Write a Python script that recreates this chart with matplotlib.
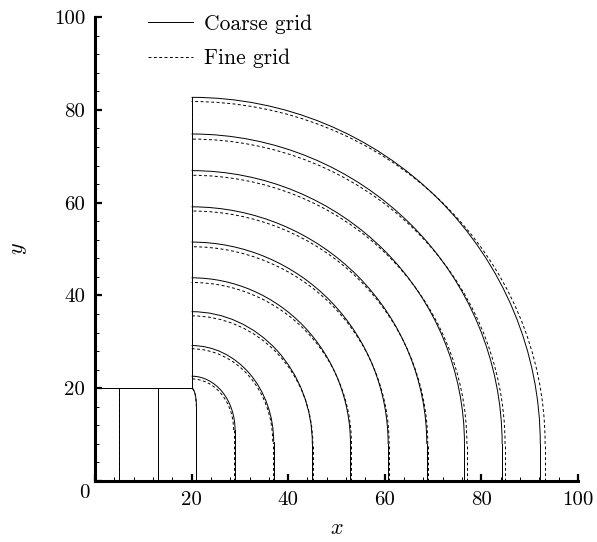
import matplotlib.pyplot as plt
from matplotlib.patches import Arc
from matplotlib.lines import Line2D
import numpy as np

plt.rcParams['font.family'] = 'cmr10'
plt.rcParams['mathtext.fontset'] = 'cm'
plt.rcParams['axes.formatter.use_mathtext'] = True

# ---- data ----
# straight fronts still inside the inlet channel (x positions)
channel_fronts = [5.0, 13.1]

# curved fronts: x where they hit the floor, y where they hit the wall x=20,
# and the height where the vertical part turns into the curve
coarse_right = [21.0, 29.0, 37.0, 45.0, 52.9, 60.7, 68.7, 76.5, 84.3, 92.2]
coarse_top   = [20.0, 22.6, 29.2, 36.5, 43.8, 51.5, 59.1, 66.9, 74.8, 82.7]
fine_right   = [21.0, 28.7, 36.8, 45.1, 53.1, 60.9, 68.9, 77.0, 84.9, 93.2]
fine_top     = [20.0, 22.0, 28.5, 35.6, 42.8, 50.5, 58.2, 65.9, 73.7, 81.8]
knee_y       = [16.0, 11.0, 8.5, 8.0, 8.0, 8.0, 8.0, 8.0, 8.0, 8.0]

wall_x = 20.0
step_y = 20.0

fig = plt.figure(figsize=(5.97, 5.42), dpi=100)
ax = fig.add_axes([0.1591, 0.1125, 0.809, 0.856])

styles = {
    'coarse': dict(color='black', lw=0.7, ls='-'),
    'fine': dict(color='black', lw=0.7, ls=(0, (3, 2.5))),
}

for key, rights, tops in [('coarse', coarse_right, coarse_top),
                          ('fine', fine_right, fine_top)]:
    st = styles[key]
    # step boundary: channel top and the wall
    ax.plot([0, wall_x, wall_x], [step_y, step_y, tops[-1]], **st)
    # fronts in the channel
    for xc in channel_fronts:
        ax.plot([xc, xc], [0, step_y], **st)
    # curved fronts
    for xr, yt, yk in zip(rights, tops, knee_y):
        ax.plot([xr, xr], [0, yk], **st)
        arc = Arc((wall_x, yk), 2 * (xr - wall_x), 2 * (yt - yk),
                  theta1=0, theta2=90, edgecolor=st['color'],
                  linewidth=st['lw'], linestyle=st['ls'])
        ax.add_patch(arc)

ax.set_xlim(0, 100)
ax.set_ylim(0, 100)

ax.spines['top'].set_visible(False)
ax.spines['right'].set_visible(False)
ax.spines['left'].set_linewidth(2.2)
ax.spines['bottom'].set_linewidth(2.2)

ax.set_xticks(np.arange(0, 101, 20))
ax.set_yticks(np.arange(0, 101, 20))
ax.set_xticks(np.arange(0, 101, 4), minor=True)
ax.set_yticks(np.arange(0, 101, 4), minor=True)
ax.set_xticklabels([''] + [str(v) for v in range(20, 101, 20)])
ax.set_yticklabels([''] + [str(v) for v in range(20, 101, 20)])
ax.tick_params(which='major', direction='in', length=5, width=1.6,
               labelsize=15, pad=7)
ax.tick_params(which='minor', direction='in', length=3, width=0.7)
ax.text(-2.1, -2.6, '0', fontsize=15, ha='center', va='center',
        clip_on=False)

ax.set_xlabel('$x$', fontsize=16, labelpad=7)
ax.set_ylabel('$y$', fontsize=16, labelpad=18)

handles = [Line2D([], [], **styles['coarse']),
           Line2D([], [], **styles['fine'])]
ax.legend(handles, ['Coarse grid', 'Fine grid'], loc='upper left',
          bbox_to_anchor=(0.11, 1.006), frameon=False, fontsize=15.5,
          handlelength=2.1, handletextpad=0.5, labelspacing=0.7,
          borderpad=0, borderaxespad=0)

fig.savefig('out.png', dpi=100)
